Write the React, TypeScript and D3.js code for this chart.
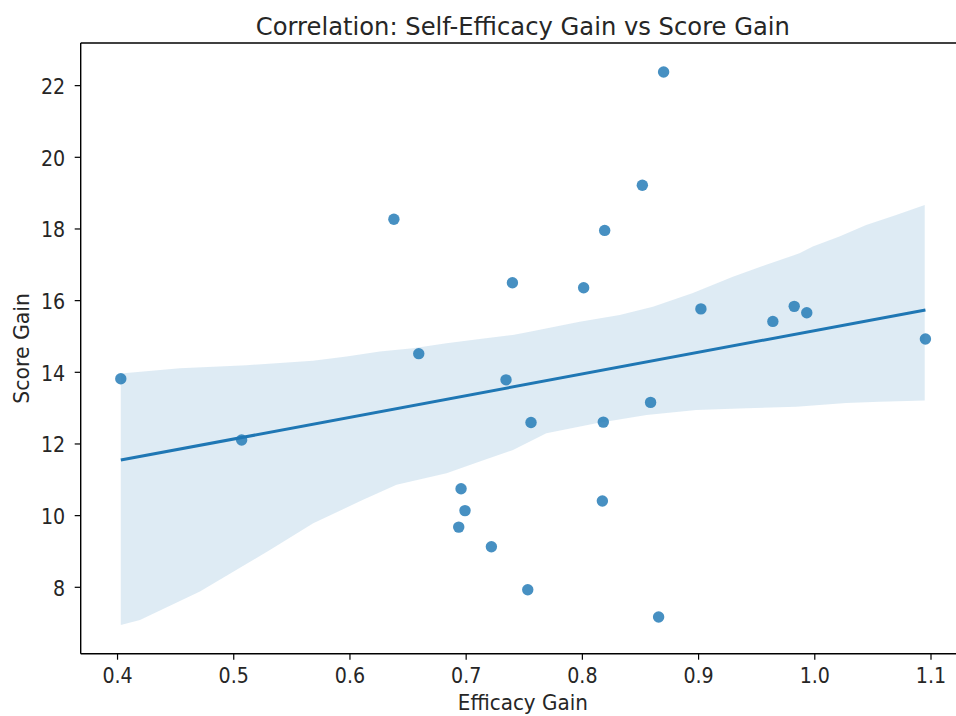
import React from "react";
import * as d3 from "d3";

const efficacyGain = [0.4028, 0.5068, 0.6378, 0.6592, 0.7398, 0.7343, 0.6956, 0.699, 0.6936, 0.7217, 0.7558, 0.8516, 0.8192, 0.8011, 0.902, 0.9639, 0.9823, 0.9931, 1.0952, 0.818, 0.8587, 0.8172, 0.753, 0.8656, 0.8699];
const scoreGain = [13.82, 12.11, 18.27, 14.52, 16.5, 13.79, 10.75, 10.14, 9.68, 9.13, 12.6, 19.22, 17.96, 16.36, 15.77, 15.42, 15.84, 15.66, 14.93, 12.61, 13.16, 10.41, 7.93, 7.17, 22.38];

const bandUpperX = [0.4028, 0.4537, 0.5111, 0.5681, 0.5971, 0.6257, 0.6541, 0.6831, 0.7117, 0.7401, 0.7547, 0.7977, 0.8321, 0.8607, 0.8951, 0.9295, 0.9582, 0.9868, 0.9983, 1.0212, 1.0442, 1.07, 1.0946];
const bandUpperY = [13.97, 14.11, 14.2, 14.32, 14.44, 14.58, 14.67, 14.81, 14.93, 15.04, 15.13, 15.41, 15.6, 15.83, 16.21, 16.67, 17.0, 17.32, 17.51, 17.79, 18.11, 18.39, 18.67];
const bandLowerX = [0.4028, 0.4193, 0.4709, 0.5311, 0.5684, 0.6113, 0.6401, 0.6831, 0.7117, 0.7403, 0.769, 0.812, 0.8552, 0.898, 0.941, 0.984, 1.027, 1.0556, 1.0946];
const bandLowerY = [6.95, 7.09, 7.88, 9.04, 9.79, 10.44, 10.86, 11.18, 11.51, 11.83, 12.3, 12.58, 12.81, 12.95, 13.0, 13.04, 13.14, 13.18, 13.21];

const fitX = [0.4028, 1.0952];
const fitY = [11.55, 15.74];

const xTicks = [0.4, 0.5, 0.6, 0.7, 0.8, 0.9, 1.0, 1.1];
const yTicks = [8, 10, 12, 14, 16, 18, 20, 22];

const title = "Correlation: Self-Efficacy Gain vs Score Gain";
const xLabel = "Efficacy Gain";
const yLabel = "Score Gain";

const W = 956;
const H = 716;
const L = 80.7, R = 969, T = 43, B = 653.7;
const color = "#1f77b4";
const font = "DejaVu Sans, sans-serif";
const textColor = "#262626";

function T2({ x, y, size, sx, anchor, rotate, children }: { x: number; y: number; size: number; sx: number; anchor: string; rotate?: number; children: any }) {
  const tr = `translate(${x},${y})` + (rotate ? ` rotate(${rotate})` : "") + ` scale(${sx},1)`;
  return (
    <text transform={tr} textAnchor={anchor} fontSize={size} fill={textColor}>
      {children}
    </text>
  );
}

export default function App() {
  const x = d3.scaleLinear().domain([0.3683, 1.1327]).range([L, R]);
  const y = d3.scaleLinear().domain([6.147, 23.19]).range([B, T]);

  const upper = bandUpperX.map((v, i) => [x(v), y(bandUpperY[i])] as [number, number]);
  const lower = bandLowerX.map((v, i) => [x(v), y(bandLowerY[i])] as [number, number]);
  const bandPath = "M" + upper.map((p) => p.join(",")).join("L") + "L" + lower.slice().reverse().map((p) => p.join(",")).join("L") + "Z";

  const line = d3.line<number>().x((d) => x(d)).y((_, i) => y(fitY[i]));

  return (
    <svg width={W} height={H} style={{ position: "absolute", left: 0, top: 0, background: "#fff", overflow: "hidden" }} fontFamily={font}>
      <defs>
        <clipPath id="plot">
          <rect x={L} y={T} width={R - L} height={B - T} />
        </clipPath>
      </defs>
      <rect width={W} height={H} fill="#fff" />
      <g clipPath="url(#plot)">
        <path d={bandPath} fill={color} fillOpacity={0.15} stroke="none" />
        <path d={line(fitX) || ""} fill="none" stroke={color} strokeWidth={3} />
        {efficacyGain.map((v, i) => (
          <circle key={i} cx={x(v)} cy={y(scoreGain[i])} r={5.7} fill={color} fillOpacity={0.82} />
        ))}
      </g>
      <line x1={L} x2={L} y1={T} y2={B} stroke="#000" strokeWidth={1.4} />
      <line x1={L} x2={W + 5} y1={T} y2={T} stroke="#000" strokeWidth={1.4} />
      <line x1={L} x2={W + 5} y1={B} y2={B} stroke="#000" strokeWidth={1.4} />
      {xTicks.map((t) => (
        <g key={t}>
          <line x1={x(t)} x2={x(t)} y1={B} y2={B + 6} stroke="#000" strokeWidth={1.2} />
          <T2 x={x(t)} y={B + 29} size={20.5} sx={0.93} anchor="middle">{t.toFixed(1)}</T2>
        </g>
      ))}
      {yTicks.map((t) => (
        <g key={t}>
          <line x1={L} x2={L - 6} y1={y(t)} y2={y(t)} stroke="#000" strokeWidth={1.2} />
          <T2 x={L - 15.5} y={y(t) + 8.5} size={20.5} sx={0.93} anchor="end">{t}</T2>
        </g>
      ))}
      <T2 x={(L + R) / 2 - 2} y={35} size={25} sx={0.97} anchor="middle">{title}</T2>
      <T2 x={(L + R) / 2 - 2} y={710} size={21} sx={0.95} anchor="middle">{xLabel}</T2>
      <T2 x={28.5} y={(T + B) / 2} size={21.5} sx={0.95} anchor="middle" rotate={-90}>{yLabel}</T2>
    </svg>
  );
}
